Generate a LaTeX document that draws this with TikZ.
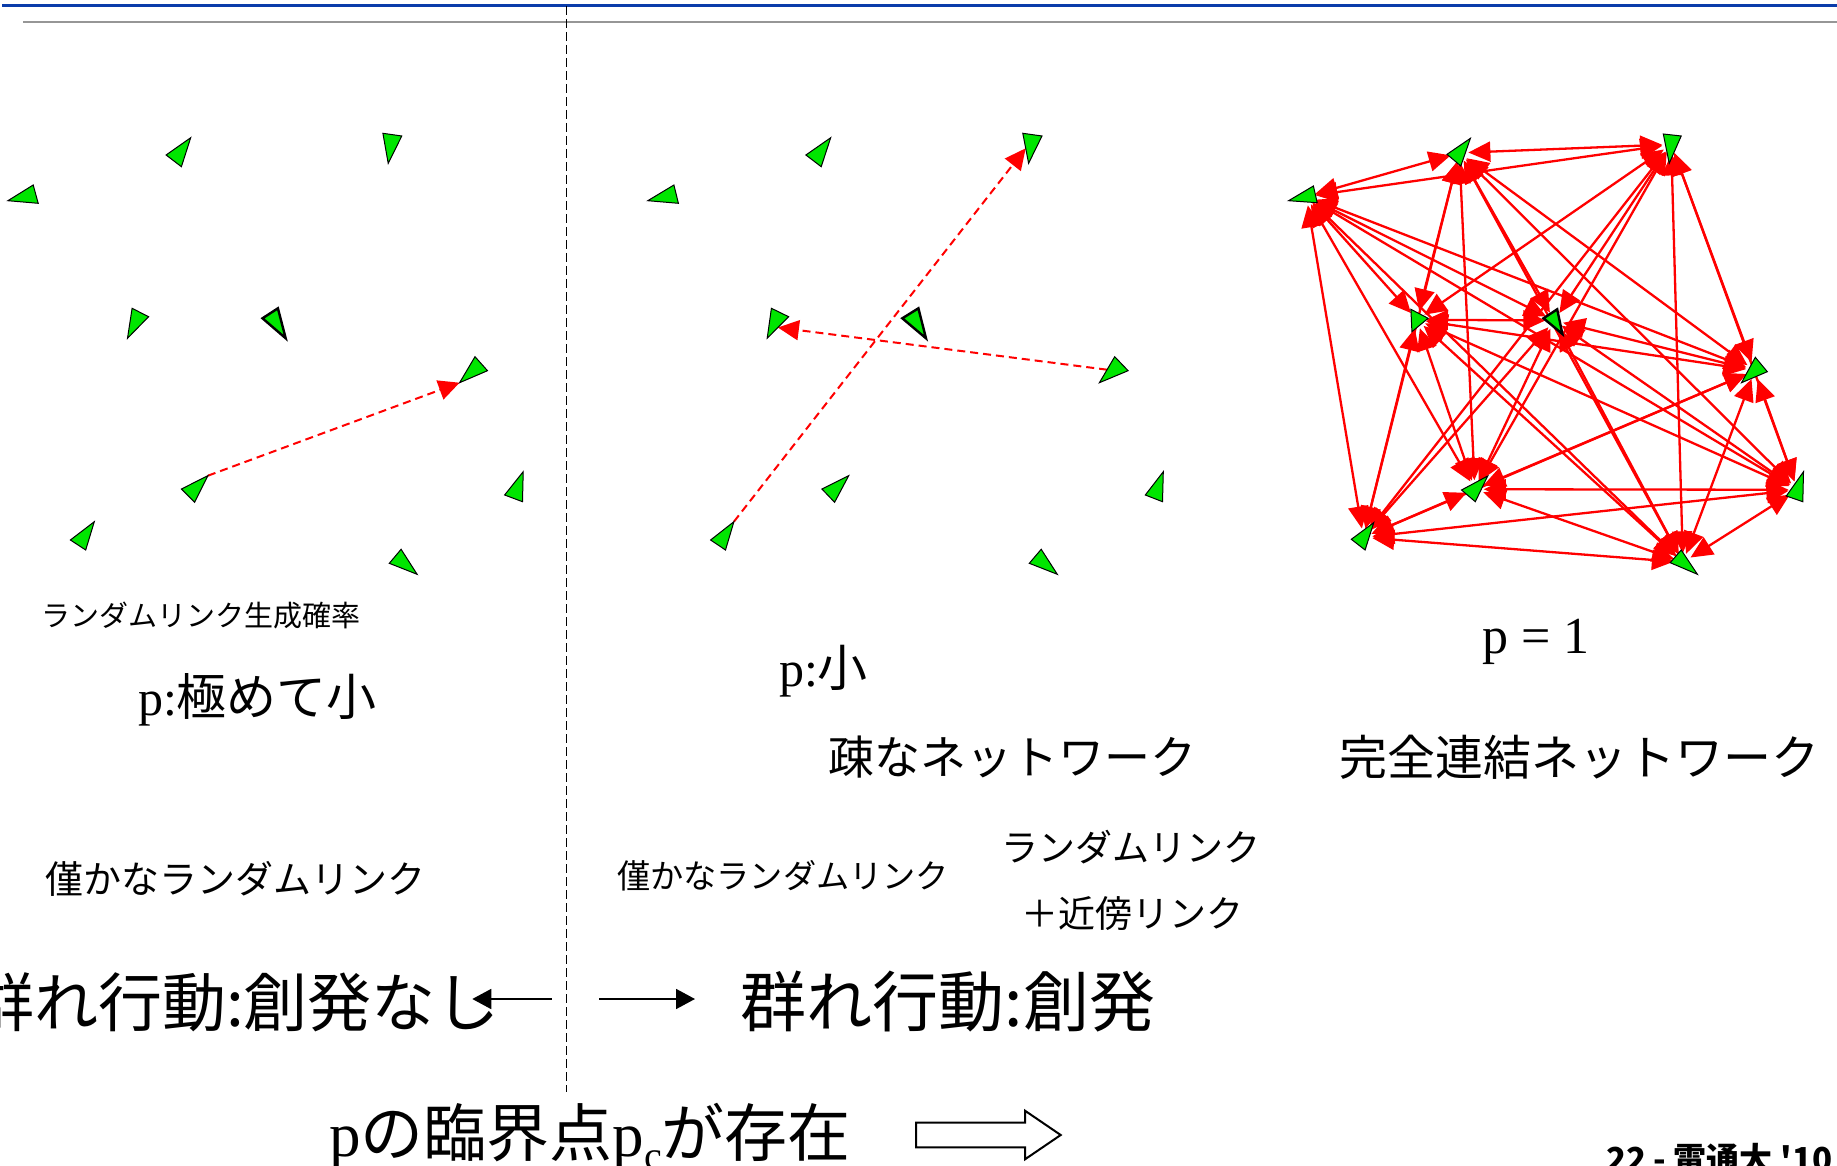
\documentclass[tikz,border=0pt]{standalone}
\usepackage{fontspec}
\setmainfont{Liberation Serif}
\newfontfamily\jp{Noto Sans CJK JP}
\usetikzlibrary{arrows.meta,calc}
\definecolor{agentgreen}{RGB}{0,230,0}
\definecolor{slideblue}{RGB}{10,60,170}
\definecolor{slidegray}{RGB}{150,150,150}
\newcommand\defagent[4]{\coordinate (#1a) at #2; \coordinate (#1b) at #3; \coordinate (#1c) at #4;
  \coordinate (#1) at (barycentric cs:#1a=1,#1b=1,#1c=1);}
\newcommand\drawagent[2][]{\filldraw[agent,#1] (#2a)--(#2b)--(#2c)--cycle;}
\tikzset{
  agent/.style={fill=agentgreen, draw=black, line width=0.5pt, line join=miter},
  thickagent/.style={line width=1.2pt},
  fulllink/.style={red, line width=1.15pt, {Triangle[length=11pt,width=10pt]}-{Triangle[length=11pt,width=10pt]}, shorten <=4.5pt, shorten >=4.5pt},
  randlink/.style={red, line width=1pt, dash pattern=on 4pt off 2.5pt, -{Triangle[length=10.5pt,width=10pt]}},
  smallarrow/.style={black, line width=0.85pt, -{Triangle[length=9.5pt,width=10pt]}},
  txt/.style={inner sep=0pt, outer sep=0pt},
}
\begin{document}
\begin{tikzpicture}[x=0.5pt,y=-0.5pt]
\useasboundingbox (0,0) rectangle (1837,1166);
\clip (0,0) rectangle (1837,1166);
% header lines
\draw[slideblue, line width=1.5pt] (2,6) -- (1837,6);
\draw[slidegray, line width=1.1pt] (23,22) -- (1837,22);
\draw[black, line width=0.75pt, dash pattern=on 4.5pt off 2pt] (566.7,6) -- (566.7,1092);
% ---------------- left panel
\defagent{L1}{(7.9,200.7)}{(33.2,185)}{(38.2,203.3)}
\defagent{L2}{(166.1,155)}{(190.7,137.7)}{(181.4,166.7)}
\defagent{L3}{(382.9,133.3)}{(401.8,136)}{(388.2,163.3)}
\defagent{L4}{(132.1,308.3)}{(148.6,316.7)}{(127.5,338.3)}
\defagent{L5}{(262.5,318.3)}{(277.9,308.3)}{(285.7,338.3)}
\defagent{L6}{(475,356.7)}{(487.5,370.7)}{(459.6,382.7)}
\defagent{L7}{(181.4,489)}{(207.9,475.7)}{(194.6,502.3)}
\defagent{L8}{(504.6,495)}{(523.2,471.7)}{(522.5,501.7)}
\defagent{L9}{(70.4,540)}{(94.3,521.7)}{(85.7,550)}
\defagent{L10}{(389.3,563.3)}{(401.1,549.3)}{(417.1,574.3)}
\draw[randlink] (L7b) -- (L6c);
\foreach \k in {1,2,3,4,6,7,8,9,10}{\drawagent{L\k}}
\drawagent[thickagent]{L5}
% ---------------- middle panel
\defagent{M1}{(647.8,200.7)}{(673.9,185)}{(678.4,203.3)}
\defagent{M2}{(805.9,155)}{(830.7,137.7)}{(821.2,166.7)}
\defagent{M3}{(1022.8,133.3)}{(1042.0,136)}{(1028.6,163.3)}
\defagent{M4}{(771.4,308.3)}{(788.6,316.7)}{(767.2,338.3)}
\defagent{M5}{(902.3,318.3)}{(918.4,308.3)}{(926.0,338.3)}
\defagent{M6}{(1114.7,356.7)}{(1128.1,370.7)}{(1099.4,382.7)}
\defagent{M7}{(821.9,489)}{(848.7,475.7)}{(834.6,502.3)}
\defagent{M8}{(1145.3,495)}{(1163.3,471.7)}{(1162.5,501.7)}
\defagent{M9}{(710.6,540)}{(733.9,521.7)}{(725.5,550)}
\defagent{M10}{(1029.3,563.3)}{(1041.2,549.3)}{(1057.3,574.3)}
\coordinate (M3t) at ($(M3a)!0.5!(M3c)$);
\coordinate (M6s) at ($(M6a)!0.5!(M6c)$);
\coordinate (M4t) at ($(M4b)!0.5!(M4c)$);
\draw[randlink] (M9b) -- (M3t);
\draw[randlink] (M6s) -- (M4t);
\foreach \k in {1,2,3,4,6,7,8,9,10}{\drawagent{M\k}}
\drawagent[thickagent]{M5}
% ---------------- right panel (complete graph)
\defagent{R1}{(1288.6,200.7)}{(1313.4,186)}{(1317.2,202.7)}
\defagent{R2}{(1447.0,154.3)}{(1470.4,138.3)}{(1460.8,166)}
\defagent{R3}{(1663.3,134)}{(1681.2,136)}{(1669.2,163.3)}
\defagent{R4}{(1410.9,309.3)}{(1428.1,318.3)}{(1411.9,331.7)}
\defagent{R5}{(1543.5,318.3)}{(1557.2,309.3)}{(1562.4,334)}
\defagent{R6}{(1755.3,357.3)}{(1767.3,371.7)}{(1741.5,382.7)}
\defagent{R7}{(1461.5,490)}{(1487.7,476)}{(1475.3,501.7)}
\defagent{R8}{(1786.3,496)}{(1803.5,471.7)}{(1802.8,501.7)}
\defagent{R9}{(1351.3,539.3)}{(1373.7,522.7)}{(1365.1,550)}
\defagent{R10}{(1670.2,562.7)}{(1681.2,550)}{(1697.4,574.3)}
\foreach \i in {1,...,10}{\foreach \j in {1,...,10}{\ifnum\i<\j \draw[fulllink] (R\i) -- (R\j);\fi}}
\foreach \k in {1,2,3,4,6,7,8,9,10}{\drawagent{R\k}}
\drawagent[thickagent]{R5}
% ---------------- texts
\node[txt, anchor=base west, font=\jp\fontsize{14.5}{17}\selectfont] (tprob) at (41,626) {ランダムリンク生成確率};
\node[txt, anchor=base west, font=\fontsize{25}{30}\selectfont] (tp1) at (138,715) {p:{\jp 極めて小}};
\node[txt, anchor=base west, font=\fontsize{25}{30}\selectfont] (tp2) at (779,686) {p:{\jp 小}};
\node[txt, anchor=base west, font=\fontsize{26}{30}\selectfont] (tp3) at (1482,653) {p = 1};
\node[txt, anchor=base, font=\jp\fontsize{23}{28}\selectfont] (tsparse) at (1012.5,774) {疎なネットワーク};
\node[txt, anchor=base, font=\jp\fontsize{24}{28}\selectfont] (tfull) at (1579,775) {完全連結ネットワーク};
\node[txt, anchor=base, font=\jp\fontsize{19}{23}\selectfont] (tfew1) at (235.5,893) {僅かなランダムリンク};
\node[txt, anchor=base, font=\jp\fontsize{16.6}{20}\selectfont] (tfew2) at (783,888) {僅かなランダムリンク};
\node[txt, anchor=base, font=\jp\fontsize{18.5}{22}\selectfont] (trl) at (1130.5,861) {ランダムリンク};
\node[txt, anchor=base, font=\jp\fontsize{18.5}{22}\selectfont] (tnl) at (1132.5,927) {＋近傍リンク};
\node[txt, anchor=base east, font=\jp\fontsize{32}{36}\selectfont] (tnone) at (500,1026) {群れ行動:創発なし};
\node[txt, anchor=base, font=\jp\fontsize{33}{36}\selectfont] (temerge) at (948,1026) {群れ行動:創発};
\node[txt, anchor=base west, font=\fontsize{31.5}{36}\selectfont] (tcrit) at (329,1156)
  {p{\jp の臨界点}p\raisebox{-0.22em}{\fontsize{20}{20}\selectfont c}{\jp が存在}};
\node[txt, anchor=base west, font=\jp\bfseries\fontsize{16.5}{20}\selectfont] (tfoot) at (1606,1171) {22 - 電通大 '10};
% small arrows
\coordinate (lS) at (551.7,999); \coordinate (lE) at (472.3,999);
\coordinate (rS) at (599,999); \coordinate (rE) at (695,999);
\draw[smallarrow] (lS) -- (lE);
\draw[smallarrow] (rS) -- (rE);
% block arrow
\draw[black, line width=1pt, fill=white, line join=miter]
  (916,1122.7) -- (1025,1122.7) -- (1025,1110.7) -- (1060.7,1135) -- (1025,1159.3) -- (1025,1147.3) -- (916,1147.3) -- cycle;
\end{tikzpicture}
\end{document}
